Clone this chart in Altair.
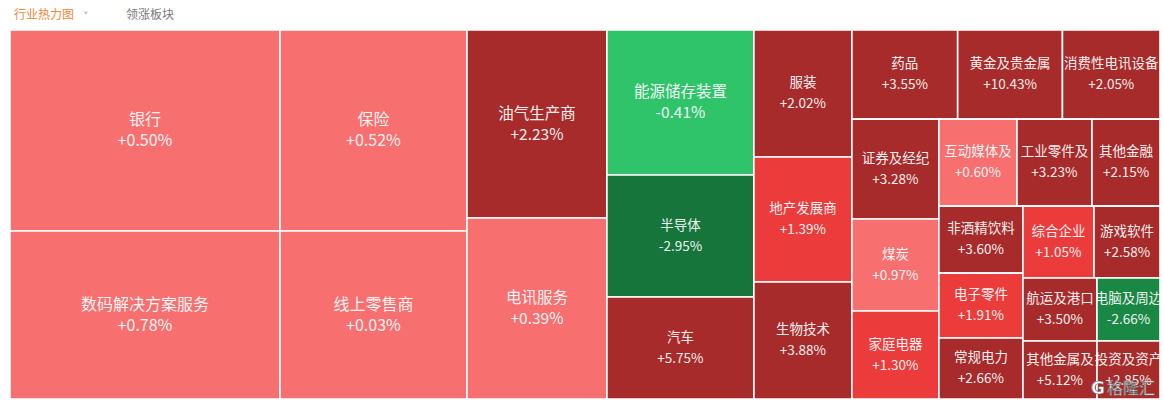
import altair as alt
import pandas as pd

# ---- data ----
names = ["银行", "数码解决方案服务", "保险", "线上零售商", "油气生产商", "电讯服务",
         "能源储存装置", "半导体", "汽车", "服装", "地产发展商", "生物技术",
         "药品", "黄金及贵金属", "消费性电讯设备", "证券及经纪", "煤炭", "家庭电器",
         "互动媒体及", "工业零件及", "其他金融", "非酒精饮料", "电子零件", "常规电力",
         "综合企业", "游戏软件", "航运及港口", "其他金属及", "电脑及周边", "投资及资产"]
changes = [0.50, 0.78, 0.52, 0.03, 2.23, 0.39,
           -0.41, -2.95, 5.75, 2.02, 1.39, 3.88,
           3.55, 10.43, 2.05, 3.28, 0.97, 1.30,
           0.60, 3.23, 2.15, 3.60, 1.91, 2.66,
           1.05, 2.58, 3.50, 5.12, -2.66, 2.85]
sizes = [54270, 45360, 37587, 31416, 26320, 25340,
         21315, 17934, 14994, 12446, 12250, 11466,
         9434, 9345, 8700, 8690, 8004, 7656,
         6786, 6525, 5916, 5628, 5460, 5124,
         5112, 4752, 4662, 4292, 3969, 3654]

W, H = 1150, 369


def squarify(values, x0, y0, x1, y1, ratio=1.0):
    """Squarified treemap (d3 style) on values sorted in descending order."""
    n = len(values)
    out = [None] * n
    value = float(sum(values))
    i0 = 0
    while i0 < n:
        dx, dy = x1 - x0, y1 - y0
        i1 = i0
        s = values[i1]
        i1 += 1
        mn = mx = s
        alpha = max(dy / dx, dx / dy) / (value * ratio)
        beta = s * s * alpha
        min_r = max(mx / beta, beta / mn)
        while i1 < n:
            v = values[i1]
            s2 = s + v
            mn2, mx2 = min(mn, v), max(mx, v)
            beta = s2 * s2 * alpha
            new_r = max(mx2 / beta, beta / mn2)
            if new_r > min_r:
                break
            s, mn, mx, min_r = s2, mn2, mx2, new_r
            i1 += 1
        if dx < dy:
            h = dy * s / value
            xx = x0
            for i in range(i0, i1):
                w = dx * values[i] / s
                out[i] = (xx, y0, xx + w, y0 + h)
                xx += w
            y0 += h
        else:
            w = dx * s / value
            yy = y0
            for i in range(i0, i1):
                h = dy * values[i] / s
                out[i] = (x0, yy, x0 + w, yy + h)
                yy += h
            x0 += w
        value -= s
        i0 = i1
    return out


rects = squarify(sizes, 0, 0, W, H)
df = pd.DataFrame({
    "name": names,
    "change": changes,
    "size": sizes,
    "x0": [r[0] for r in rects],
    "y0": [r[1] for r in rects],
    "x1": [r[2] for r in rects],
    "y1": [r[3] for r in rects],
})
df["cx"] = (df["x0"] + df["x1"]) / 2
df["cy"] = (df["y0"] + df["y1"]) / 2
df["pct"] = [f"{c:+.2f}%" for c in changes]

xs = alt.Scale(domain=[0, W], range=[0, W], nice=False, zero=False)
ys = alt.Scale(domain=[0, H], reverse=True, nice=False, zero=False)

color = alt.Color(
    "change:Q",
    scale=alt.Scale(type="threshold", domain=[-2.8, -1, 0, 1, 2],
                    range=["#15753B", "#198845", "#2FC46A", "#F76F6F", "#EC3B3B", "#A72B2B"]),
    legend=None,
)

fsize = alt.Size("size:Q", scale=alt.Scale(type="threshold", domain=[20000, 30000],
                                            range=[13.5, 15.5, 16]), legend=None)

base = alt.Chart(df)

cells = base.mark_rect(stroke="#ffffff", strokeWidth=1.6).encode(
    x=alt.X("x0:Q", scale=xs, axis=None),
    x2="x1:Q",
    y=alt.Y("y0:Q", scale=ys, axis=None),
    y2="y1:Q",
    color=color,
    tooltip=["name", "change"],
)

name_labels = base.mark_text(
    font="Noto Sans CJK SC", dy=-10.5,
    align="center", baseline="middle", color="#ffffff", opacity=0.92,
).encode(
    x=alt.X("cx:Q", scale=xs, axis=None),
    y=alt.Y("cy:Q", scale=ys, axis=None),
    text="name:N",
    size=fsize,
)

pct_labels = base.mark_text(
    font="Noto Sans CJK SC", dy=10.5,
    align="center", baseline="middle", color="#ffffff", opacity=0.92,
).encode(
    x=alt.X("cx:Q", scale=xs, axis=None),
    y=alt.Y("cy:Q", scale=ys, axis=None),
    text="pct:N",
    size=fsize,
)

header1 = alt.Chart(pd.DataFrame({"t": ["行业热力图"]})).mark_text(
    font="Noto Sans CJK SC", fontSize=12, color="#F0883A", align="left", baseline="middle"
).encode(x=alt.value(4), y=alt.value(-15), text="t:N")

header_arrow = alt.Chart(pd.DataFrame({"t": ["˅"]})).mark_text(
    font="DejaVu Sans", fontSize=11, color="#999999", align="left", baseline="middle"
).encode(x=alt.value(73), y=alt.value(-13), text="t:N")

header2 = alt.Chart(pd.DataFrame({"t": ["领涨板块"]})).mark_text(
    font="Noto Sans CJK SC", fontSize=12, color="#7a7a7a", align="left", baseline="middle"
).encode(x=alt.value(116), y=alt.value(-15), text="t:N")

wm_logo = alt.Chart(pd.DataFrame({"t": ["G"]})).mark_text(
    font="DejaVu Sans", fontSize=17, fontWeight="bold", color="#ffffff",
    stroke="#666666", strokeWidth=0.6, align="center", baseline="middle"
).encode(x=alt.value(1088), y=alt.value(359), text="t:N")

wm_text = alt.Chart(pd.DataFrame({"t": ["格隆汇"]})).mark_text(
    font="Noto Sans CJK SC", fontSize=16, color="#ffffff",
    stroke="#666666", strokeWidth=0.6, align="left", baseline="middle"
).encode(x=alt.value(1097), y=alt.value(359), text="t:N")

chart = alt.layer(cells, name_labels, pct_labels, header1, header_arrow, header2,
                  wm_logo, wm_text).properties(
    width=W, height=H,
    padding={"left": 10, "top": 30, "right": 4, "bottom": 8},
    autosize="none",
    background="#ffffff",
).configure_view(stroke=None)

chart.save("out.html", embed_options={"renderer": "svg", "actions": False})
